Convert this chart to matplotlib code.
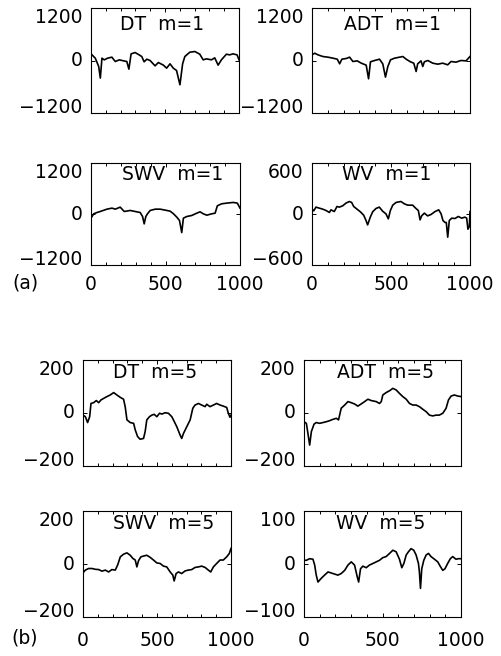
import matplotlib
matplotlib.use("Agg")
import matplotlib.pyplot as plt
from matplotlib.ticker import MultipleLocator

# ---- data (x = sample index, y = value) ----
t_dt1 = [0, 29, 52, 63, 74, 90, 112, 141, 164, 191, 220, 242, 256, 271, 298, 321,
         343, 359, 377, 399, 433, 455, 489, 511, 534, 556, 578, 601, 619, 634, 668,
         702, 735, 758, 780, 814, 836, 859, 881, 915, 937, 960, 987, 1000]
v_dt1 = [152, 53, -137, -403, 53, 15, 53, 76, -23, 15, -8, -23, -198, 152, 182, 137,
         91, -30, 30, 0, -122, -46, -106, -175, -76, -175, -228, -555, -76, 91, 190,
         205, 144, 15, 38, 15, 61, -106, 15, 144, 129, 152, 129, 15]

t_adt1 = [0, 17, 38, 69, 101, 133, 160, 175, 189, 217, 238, 259, 286, 312, 343, 358,
          370, 396, 427, 448, 465, 480, 497, 522, 554, 575, 596, 623, 644, 659, 669,
          690, 701, 711, 733, 764, 796, 827, 859, 880, 911, 943, 975, 1000]
v_adt1 = [129, 167, 129, 91, 76, 53, 30, -76, 30, 46, 76, -23, -8, -61, -106, -418,
          -30, 0, 30, -76, -380, -137, 15, 53, 76, 91, 30, -30, -61, -251, -76,
          -8, -137, -30, 0, -61, -84, -61, -99, -23, -38, 0, -8, 91]

t_swv1 = [0, 18, 40, 62, 107, 141, 163, 196, 223, 263, 297, 330, 346, 357, 368, 379,
          397, 431, 464, 498, 531, 554, 576, 594, 609, 620, 643, 676, 710, 732, 754,
          777, 810, 833, 848, 877, 911, 955, 982, 1000]
v_swv1 = [-98, 4, 35, 59, 114, 138, 114, 161, 59, 83, 59, 35, -59, -232, -59, 4,
          83, 114, 114, 91, 67, 4, -75, -153, -437, -98, -59, -35, 20, 51, 4,
          -28, 4, 20, 193, 240, 256, 272, 256, 138]

t_wv1 = [0, 11, 25, 46, 68, 89, 110, 120, 141, 158, 173, 194, 215, 236, 251, 264,
         285, 306, 327, 342, 352, 369, 384, 405, 426, 447, 468, 483, 496, 511, 532,
         563, 584, 606, 637, 658, 673, 684, 694, 711, 732, 753, 779, 802, 817, 829,
         842, 850, 859, 869, 884, 905, 926, 947, 968, 979, 987, 996, 1000]
v_wv1 = [57, 37, 81, 69, 57, 41, 18, 49, 29, 88, 81, 96, 128, 147, 136, 88,
         57, 26, -14, -77, -128, -37, 26, 65, 81, 33, 2, -57, 41, 104, 136,
         147, 120, 104, 104, 65, 41, -69, -22, 10, -22, -6, 29, 49, 2, -77,
         -100, -100, -273, -77, -49, -53, -29, -49, -37, -49, -179, -147, 29]

t_dt5 = [0, 16, 31, 45, 54, 72, 90, 106, 121, 139, 162, 184, 207, 229, 252, 274,
         285, 297, 319, 342, 353, 369, 386, 409, 420, 431, 449, 465, 481, 499, 517,
         533, 555, 577, 600, 611, 634, 656, 667, 679, 701, 724, 742, 757, 780, 802,
         825, 836, 858, 881, 903, 926, 948, 971, 982, 993, 1000]
v_dt5 = [-8, -14, -36, -14, 36, 39, 47, 39, 49, 55, 62, 68, 77, 68, 59, 52,
         24, -26, -36, -39, -64, -89, -99, -96, -70, -26, -14, -8, -5, -14, -1,
         -4, 1, -1, -14, -26, -52, -83, -96, -77, -52, -26, 18, 30, 36, 30,
         24, 33, 24, 30, 36, 30, 26, 21, -1, -16, -8]

t_adt5 = [0, 15, 25, 36, 47, 64, 78, 100, 121, 142, 163, 184, 206, 220, 237, 259,
          280, 301, 322, 343, 364, 386, 407, 428, 460, 481, 492, 502, 523, 545, 566,
          587, 608, 629, 651, 672, 693, 714, 735, 757, 778, 799, 820, 841, 862, 884,
          905, 920, 937, 958, 979, 1000]
v_adt5 = [-33, -39, -77, -121, -70, -42, -36, -39, -36, -33, -29, -24, -20, -26, 18, 30,
          43, 39, 34, 26, 34, 43, 52, 47, 43, 36, 43, 68, 77, 84, 93,
          87, 74, 62, 52, 36, 30, 30, 24, 14, 5, -8, -11, -8, -8, -1,
          18, 49, 64, 68, 64, 62]

t_swv5 = [0, 16, 38, 61, 83, 106, 128, 151, 173, 195, 218, 234, 252, 274, 297, 319,
          337, 353, 364, 375, 391, 409, 431, 454, 476, 499, 521, 544, 566, 589, 607,
          616, 629, 645, 667, 690, 712, 735, 757, 780, 802, 825, 847, 863, 881, 903,
          926, 948, 971, 989, 1000]
v_swv5 = [-33, -23, -17, -17, -20, -21, -27, -23, -30, -21, -23, -4, 27, 37, 42, 33,
          21, 15, -11, 12, 27, 30, 33, 25, 15, 4, 2, -8, -11, -30, -42,
          -64, -36, -30, -36, -26, -23, -21, -13, -11, -8, -13, -23, -30, -11, 2,
          15, 15, 27, 40, 59]

t_wv5 = [0, 15, 36, 57, 68, 78, 89, 110, 131, 153, 174, 195, 216, 237, 259, 280,
         301, 322, 339, 348, 360, 375, 396, 417, 439, 460, 481, 502, 523, 545, 566,
         587, 608, 623, 636, 651, 665, 682, 699, 714, 729, 735, 742, 750, 763, 778,
         793, 809, 831, 852, 869, 884, 898, 915, 932, 947, 968, 983, 1000]
v_wv5 = [7, 7, 10, 9, -2, -21, -34, -27, -21, -15, -17, -19, -21, -18, -12, -2,
         4, -2, -24, -34, -9, -4, -7, -2, 1, 4, 7, 12, 14, 20, 26,
         23, 9, -7, 1, 17, 23, 29, 26, 17, 1, -15, -46, -9, 7, 17,
         20, 14, 9, 4, -5, -12, -9, 1, 10, 14, 9, 10, 10]

titles = ["DT  m=1", "ADT  m=1", "SWV  m=1", "WV  m=1",
          "DT  m=5", "ADT  m=5", "SWV  m=5", "WV  m=5"]
limits = [1200, 1200, 1200, 600, 200, 200, 200, 100]
series = [(t_dt1, v_dt1), (t_adt1, v_adt1), (t_swv1, v_swv1), (t_wv1, v_wv1),
          (t_dt5, v_dt5), (t_adt5, v_adt5), (t_swv5, v_swv5), (t_wv5, v_wv5)]

# ---- layout in pixels of the 502x656 figure ----
W, H = 502, 656
FS = 13.5
# (left, top, right, bottom)
boxes = [(91, 8, 239, 113), (312, 8, 470, 113), (91, 163, 240, 265), (312, 163, 470, 265),
         (83, 360, 231, 466), (304, 360, 461, 466), (83, 511, 231, 617), (304, 511, 461, 617)]
title_dx = [-3, 1, 7, -4, -2, 3, 7, -2]
title_dy = [7, 7, 2, 2, 3, 3, 3, 3]
xlabel_pad = [None, None, 7.5, 7.5, None, None, 10, 10]

plt.rcParams["font.family"] = "DejaVu Sans"
fig = plt.figure(figsize=(W / 100, H / 100), dpi=100)

for i in range(8):
    x0, y0, x1, y1 = boxes[i]
    ax = fig.add_axes([x0 / W, 1 - y1 / H, (x1 - x0) / W, (y1 - y0) / H])
    t, v = series[i]
    lim = limits[i]
    ax.plot(t, v, color="black", lw=1.2)
    ax.set_xlim(0, 1000)
    ax.set_ylim(-lim, lim)
    ax.set_xticks([0, 500, 1000])
    ax.xaxis.set_minor_locator(MultipleLocator(100))
    ax.set_yticks([-lim, 0, lim])
    ax.tick_params(which="both", direction="in", top=True, right=True,
                   labelsize=FS, width=0.7, labelleft=False)
    ax.tick_params(which="major", length=3)
    ax.tick_params(which="minor", length=2.5)
    if xlabel_pad[i] is None:
        ax.tick_params(axis="x", labelbottom=False)
    else:
        ax.tick_params(axis="x", pad=xlabel_pad[i])
    # y labels: end labels sit inside the frame height, as in the reference
    for val, txt, va in [(-lim, "\u2212%d" % lim, "baseline"), (0, "0", "center"),
                         (lim, "%d" % lim, "top")]:
        ax.annotate(txt, xy=(0, val), xycoords=ax.get_yaxis_transform(),
                    xytext=(-6, 0), textcoords="offset points",
                    ha="right", va=va, fontsize=FS)
    for s in ax.spines.values():
        s.set_linewidth(0.8)
    cx = (x0 + x1) / 2 + title_dx[i]
    ax.text((cx - x0) / (x1 - x0), 1 - title_dy[i] / (y1 - y0), titles[i],
            transform=ax.transAxes, ha="center", va="top", fontsize=FS)

fig.text(25 / W, 1 - 283 / H, "(a)", ha="center", va="center", fontsize=FS)
fig.text(25 / W, 1 - 638 / H, "(b)", ha="center", va="center", fontsize=FS)

fig.savefig("out.png", dpi=100)
